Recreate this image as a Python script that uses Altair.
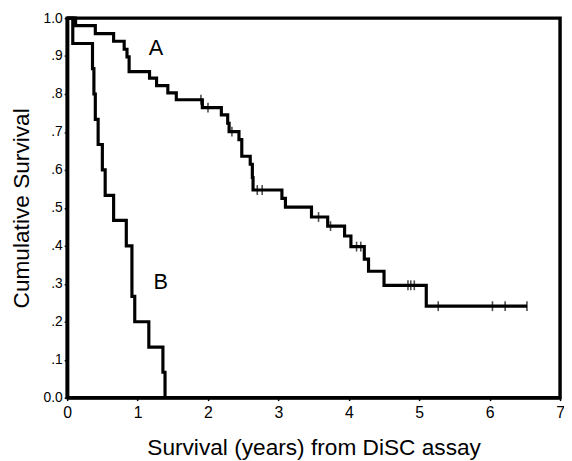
import altair as alt
import pandas as pd

# Curve A (step function)
a_t = [0, 0.12, 0.40, 0.66, 0.81, 0.85, 0.88, 1.17, 1.27, 1.43, 1.55, 1.92, 2.19, 2.28, 2.30,
       2.44, 2.48, 2.60, 2.63, 2.64, 3.05, 3.10, 3.47, 3.70, 3.94, 4.03, 4.22, 4.28, 4.50, 5.10, 6.53]
a_s = [1.0, 0.98, 0.959, 0.939, 0.918, 0.898, 0.859, 0.842, 0.822, 0.803, 0.785, 0.764, 0.745, 0.723, 0.701,
       0.680, 0.636, 0.615, 0.58, 0.547, 0.525, 0.502, 0.476, 0.452, 0.426, 0.398, 0.365, 0.333, 0.296, 0.241, 0.241]
# Censored observations on A
a_cens_t = [1.90, 2.00, 2.34, 2.70, 2.77, 3.57, 3.74, 4.11, 4.17, 4.84, 4.88, 4.93, 5.27, 6.04, 6.22, 6.53]
a_cens_s = [0.785, 0.764, 0.701, 0.547, 0.547, 0.476, 0.452, 0.398, 0.398, 0.296, 0.296, 0.296, 0.241, 0.241, 0.241, 0.241]

# Curve B (step function)
b_t = [0, 0.08, 0.36, 0.38, 0.40, 0.44, 0.50, 0.54, 0.66, 0.84, 0.92, 0.96, 1.16, 1.36, 1.39]
b_s = [1.0, 0.933, 0.867, 0.800, 0.733, 0.667, 0.600, 0.533, 0.467, 0.400, 0.267, 0.200, 0.133, 0.067, 0.0]

# Curve labels
lab_text = ["A", "B"]
lab_t = [1.26, 1.33]
lab_s = [0.922, 0.305]

y_ticks = [0, 0.1, 0.2, 0.3, 0.4, 0.5, 0.6, 0.7, 0.8, 0.9, 1.0]
x_ticks = [0, 1, 2, 3, 4, 5, 6, 7]

curves = pd.concat([
    pd.DataFrame({"t": a_t, "s": a_s, "g": "A"}),
    pd.DataFrame({"t": b_t, "s": b_s, "g": "B"}),
])
cens = pd.DataFrame({"t": a_cens_t, "s": a_cens_s})
labels = pd.DataFrame({"t": lab_t, "s": lab_s, "txt": lab_text})

FONT = "Liberation Sans"

xs = alt.Scale(domain=[0, 7], nice=False, zero=False)
ys = alt.Scale(domain=[0, 1], nice=False, zero=False)

x_axis = alt.Axis(values=x_ticks, format="d", title="Survival (years) from DiSC assay", grid=False,
                  labelFontSize=16, titleFontSize=23, titleFontWeight="normal",
                  labelPadding=4, titlePadding=17, tickSize=3, labelFont=FONT, titleFont=FONT,
                  labelColor="black", titleColor="black", domainColor="black", domainWidth=3.5,
                  tickColor="black", tickWidth=1.5, labelFlush=False, labelOverlap=False)
y_axis = alt.Axis(values=y_ticks, title="Cumulative Survival", grid=False,
                  labelExpr="datum.value == 0 ? '0.0' : (datum.value == 1 ? '1.0' : replace(format(datum.value, '.1f'), '0.', '.'))",
                  labelFontSize=14, titleFontSize=23, titleFontWeight="normal",
                  labelPadding=2, titlePadding=10, tickSize=3, labelFont=FONT, titleFont=FONT,
                  labelColor="black", titleColor="black", domainColor="black", domainWidth=3.5,
                  tickColor="black", tickWidth=1.5, labelFlush=False, labelOverlap=False)

X = alt.X("t:Q", scale=xs, axis=x_axis)
Y = alt.Y("s:Q", scale=ys, axis=y_axis)

lines = alt.Chart(curves).mark_line(interpolate="step-after", color="black", strokeWidth=3.2).encode(
    x=X, y=Y, detail="g:N",
)

ticks = alt.Chart(cens).mark_tick(orient="vertical", color="black", size=10, thickness=1.6).encode(
    x=X, y=Y,
)

texts = alt.Chart(labels).mark_text(font=FONT, fontSize=22, color="black").encode(
    x=X, y=Y, text="txt:N",
)

chart = alt.layer(lines, ticks, texts).properties(
    width=500, height=385,
    background="white",
    autosize=alt.AutoSizeParams(type="none"),
    padding={"left": 60, "top": 7, "right": 4, "bottom": 60},
).configure_view(
    stroke="black", strokeWidth=3.5
)

chart.save("out.html", embed_options={"renderer": "svg", "actions": False})
